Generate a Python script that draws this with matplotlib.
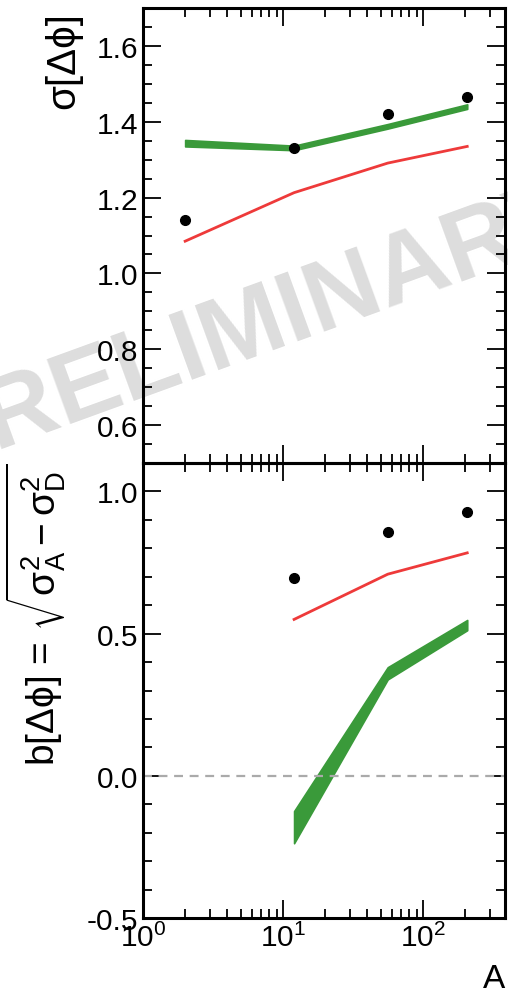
import matplotlib
matplotlib.use("Agg")
import matplotlib.pyplot as plt

plt.rcParams['font.family'] = ['Liberation Sans', 'DejaVu Sans']
plt.rcParams['mathtext.fontset'] = 'custom'
plt.rcParams['mathtext.rm'] = 'Liberation Sans'
plt.rcParams['mathtext.it'] = 'Liberation Sans:italic'
plt.rcParams['axes.unicode_minus'] = False

# masas A de los nucleos
A_all = [2, 12, 56, 207]
A_b = [12, 56, 207]

# panel superior: sigma[dphi]
sig_data = [1.14, 1.332, 1.421, 1.465]
sig_red = [1.085, 1.213, 1.291, 1.335]
sig_green_lo = [1.335, 1.325, 1.382, 1.434]
sig_green_hi = [1.352, 1.337, 1.394, 1.446]

# panel inferior: b[dphi]
b_data = [0.695, 0.858, 0.929]
b_red = [0.55, 0.709, 0.784]
b_green_lo = [-0.237, 0.339, 0.512]
b_green_hi = [-0.124, 0.382, 0.548]

rojo = '#ee3a3a'
verde = '#3a9a3a'

fig = plt.figure(figsize=(5.08, 10.03), dpi=100)
ax1 = fig.add_axes([0.2815, 0.5374, 0.7125, 0.4536])
ax2 = fig.add_axes([0.2815, 0.0837, 0.7125, 0.4537], sharex=ax1)

# marca de agua (detras de los ejes)
fig.text(0.491, 0.672, 'PRELIMINARY', color='#dddddd', fontsize=73, fontweight='bold',
         rotation=20, ha='center', va='center', zorder=-1)

for ax in (ax1, ax2):
    ax.set_xscale('log')
    ax.set_facecolor('none')
    for s in ax.spines.values():
        s.set_linewidth(2.2)
    ax.tick_params(which='both', direction='in', top=True, right=True, labelsize=21.5, width=1.3)
    ax.tick_params(which='major', length=13)
    ax.tick_params(which='minor', length=6.5)

ax1.fill_between(A_all, sig_green_lo, sig_green_hi, color=verde, lw=1.2, ec=verde)
ax1.plot(A_all, sig_red, color=rojo, lw=2)
ax1.plot(A_all, sig_data, 'o', color='black', ms=7)
ax1.set_ylim(0.5, 1.7)
ax1.set_yticks([0.6, 0.8, 1.0, 1.2, 1.4, 1.6])
ax1.set_yticks([0.55 + 0.05 * i for i in range(23)], minor=True)
ax1.set_yticklabels(['0.6', '0.8', '1.0', '1.2', '1.4', '1.6'])
ax1.tick_params(labelbottom=False)
ax1.set_ylabel('σ[Δϕ]', fontsize=29, loc='top')
ax1.yaxis.set_label_coords(-0.168, 0.993)

ax2.axhline(0, color='#aaaaaa', lw=1.6, ls=(0, (4, 3)))
ax2.fill_between(A_b, b_green_lo, b_green_hi, color=verde, lw=1.2, ec=verde)
ax2.plot(A_b, b_red, color=rojo, lw=2)
ax2.plot(A_b, b_data, 'o', color='black', ms=7)
ax2.set_ylim(-0.5, 1.1)
ax2.set_yticks([-0.5, 0.0, 0.5, 1.0])
ax2.set_yticks([-0.4 + 0.1 * i for i in range(15)], minor=True)
ax2.set_yticklabels(['-0.5', '0.0', '0.5', '1.0'])
ax2.set_xlim(1, 385)
ax2.set_ylabel(r'b[Δϕ] = $\sqrt{\mathrm{σ}_{\mathrm{A}}^{2} - \mathrm{σ}_{\mathrm{D}}^{2}}$', fontsize=28,
               loc='top')
ax2.yaxis.set_label_coords(-0.207, 1.0)
ax2.set_xlabel('A', fontsize=24, loc='right', labelpad=8)

fig.savefig('out.png', dpi=100)
